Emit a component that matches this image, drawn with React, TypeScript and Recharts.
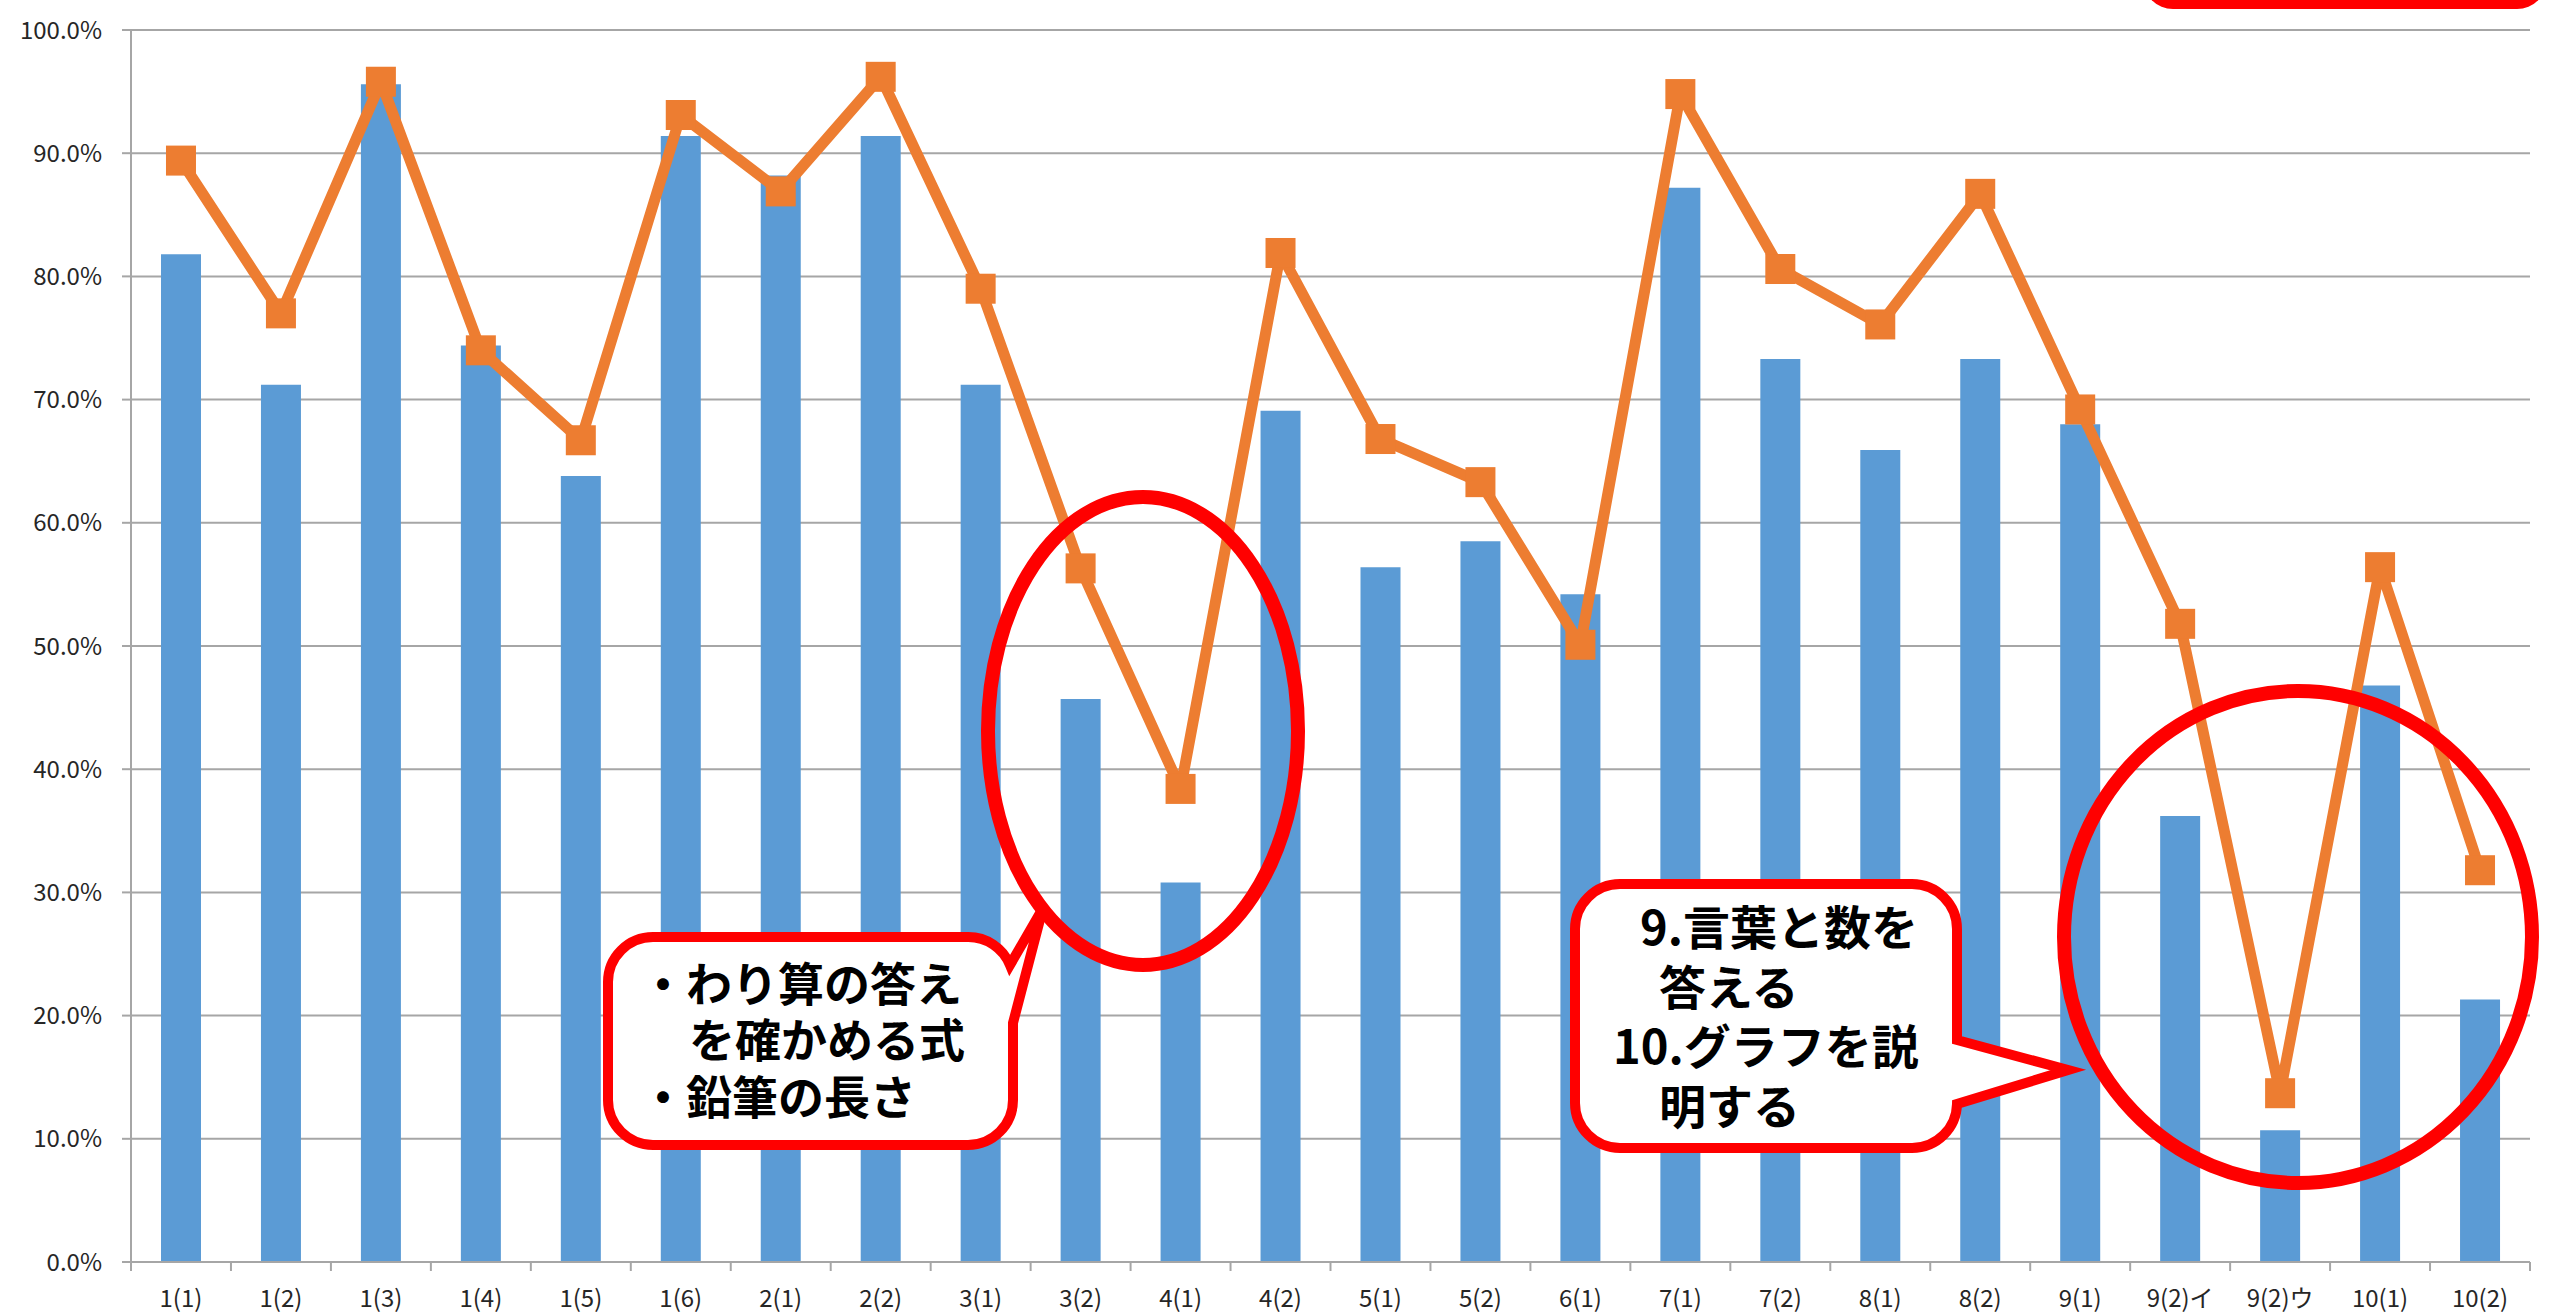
import React from 'react';
import { ComposedChart, Bar, Line, XAxis, YAxis, CartesianGrid } from 'recharts';

const categories = [
  '1(1)', '1(2)', '1(3)', '1(4)', '1(5)', '1(6)', '2(1)', '2(2)', '3(1)', '3(2)', '4(1)', '4(2)',
  '5(1)', '5(2)', '6(1)', '7(1)', '7(2)', '8(1)', '8(2)', '9(1)', '9(2)イ', '9(2)ウ', '10(1)', '10(2)',
];

// blue bars (%)
const barValues = [
  81.8, 71.2, 95.6, 74.4, 63.8, 91.4, 88.2, 91.4, 71.2, 45.7, 30.8, 69.1,
  56.4, 58.5, 54.2, 87.2, 73.3, 65.9, 73.3, 68.0, 36.2, 10.7, 46.8, 21.3,
];

// orange line (%)
const lineValues = [
  89.4, 77.0, 95.8, 74.0, 66.7, 93.1, 86.9, 96.2, 79.0, 56.3, 38.4, 81.9,
  66.8, 63.3, 50.1, 94.8, 80.6, 76.1, 86.7, 69.2, 51.8, 13.7, 56.4, 31.8,
];

const yTicks = [0, 10, 20, 30, 40, 50, 60, 70, 80, 90, 100];

const W = 2552;
const H = 1314;
const MARGIN = { top: 30, right: 22, bottom: 0, left: 0 };
const Y_AXIS_W = 131;
const X_AXIS_H = 52;
const PLOT_W = W - MARGIN.left - MARGIN.right - Y_AXIS_W;
const BAND = PLOT_W / categories.length;

const GRID = '#a6a6a6';
const BLUE = '#5b9bd5';
const ORANGE = '#ed7d31';
const RED = '#ff0000';
const FONT = '"Noto Sans CJK JP", "Noto Sans", sans-serif';

const data = categories.map((name, i) => ({ name, rate: barValues[i], school: lineValues[i] }));

const SquareDot = (props: any) => {
  const { cx, cy, index } = props;
  if (cx == null || cy == null) return null;
  return <rect key={`dot-${index}`} x={cx - 15} y={cy - 15} width={30} height={30} fill={ORANGE} />;
};

const CategoryTick = (props: any) => {
  const { x, y, payload, index } = props;
  const last = index === categories.length - 1;
  return (
    <g>
      <line x1={x - BAND / 2} x2={x - BAND / 2} y1={y} y2={y + 9} stroke={GRID} strokeWidth={2} />
      {last && <line x1={x + BAND / 2} x2={x + BAND / 2} y1={y} y2={y + 9} stroke={GRID} strokeWidth={2} />}
      <text x={x} y={y + 45} textAnchor="middle" fontSize={24} fill="#262626" fontFamily={FONT}>
        {payload.value}
      </text>
    </g>
  );
};

const calloutText = { fontFamily: FONT, fontWeight: 700, fill: '#000' } as const;

const Annotations = () => (
  <svg width={W} height={H} style={{ position: 'absolute', top: 0, left: 0, pointerEvents: 'none' }}>
    {/* cut-off box at top right */}
    <rect x={2143} y={-60} width={404} height={69} rx={30} fill={RED} />

    <ellipse cx={1143} cy={731} rx={155} ry={234} fill="none" stroke={RED} strokeWidth={14} />
    <ellipse cx={2298} cy={937} rx={234} ry={246} fill="none" stroke={RED} strokeWidth={14} />

    <path
      d="M 653 937 H 968 A 45 45 0 0 1 1010 965 L 1043 908 L 1013 1023 V 1100 A 45 45 0 0 1 968 1145 H 653 A 45 45 0 0 1 608 1100 V 982 A 45 45 0 0 1 653 937 Z"
      fill="#fff" stroke={RED} strokeWidth={10} strokeLinejoin="miter"
    />
    <text x={640} y={1001} fontSize={46} {...calloutText}>・わり算の答え</text>
    <text x={689} y={1057} fontSize={46} {...calloutText}>を確かめる式</text>
    <text x={640} y={1114} fontSize={46} {...calloutText}>・鉛筆の長さ</text>

    <path
      d="M 1620 884 H 1912 A 45 45 0 0 1 1957 929 V 1040 L 2068 1070 L 1957 1104 A 45 45 0 0 1 1912 1148 H 1620 A 45 45 0 0 1 1575 1103 V 929 A 45 45 0 0 1 1620 884 Z"
      fill="#fff" stroke={RED} strokeWidth={10} strokeLinejoin="miter"
    />
    <text x={1640} y={945} fontSize={47} {...calloutText}>9.言葉と数を</text>
    <text x={1659} y={1005} fontSize={47} {...calloutText}>答える</text>
    <text x={1613} y={1064} fontSize={47} {...calloutText}>10.グラフを説</text>
    <text x={1659} y={1124} fontSize={47} {...calloutText}>明する</text>
  </svg>
);

const App: React.FC = () => {
  return (
    <div style={{ position: 'relative', width: W, height: H, background: '#fff', fontFamily: FONT }}>
      <style>{'body { margin: 0; }'}</style>
      <ComposedChart width={W} height={H} data={data} margin={MARGIN}>
        <CartesianGrid horizontal vertical={false} stroke={GRID} strokeWidth={2} />
        <XAxis
          dataKey="name"
          interval={0}
          height={X_AXIS_H}
          tickLine={false}
          tickSize={0}
          tickMargin={0}
          axisLine={{ stroke: GRID, strokeWidth: 2 }}
          tick={<CategoryTick />}
        />
        <YAxis
          domain={[0, 100]}
          ticks={yTicks}
          interval={0}
          width={Y_AXIS_W}
          tickSize={9}
          tickMargin={20}
          tickLine={{ stroke: GRID, strokeWidth: 2 }}
          axisLine={{ stroke: GRID, strokeWidth: 2 }}
          tick={{ fontSize: 24, fill: '#262626', fontFamily: FONT }}
          tickFormatter={(v: number) => `${v.toFixed(1)}%`}
        />
        <Bar dataKey="rate" fill={BLUE} barSize={40} isAnimationActive={false} />
        <Line
          type="linear"
          dataKey="school"
          stroke={ORANGE}
          strokeWidth={11}
          strokeLinejoin="round"
          dot={<SquareDot />}
          activeDot={false}
          isAnimationActive={false}
        />
      </ComposedChart>
      <Annotations />
    </div>
  );
};

export default App;
